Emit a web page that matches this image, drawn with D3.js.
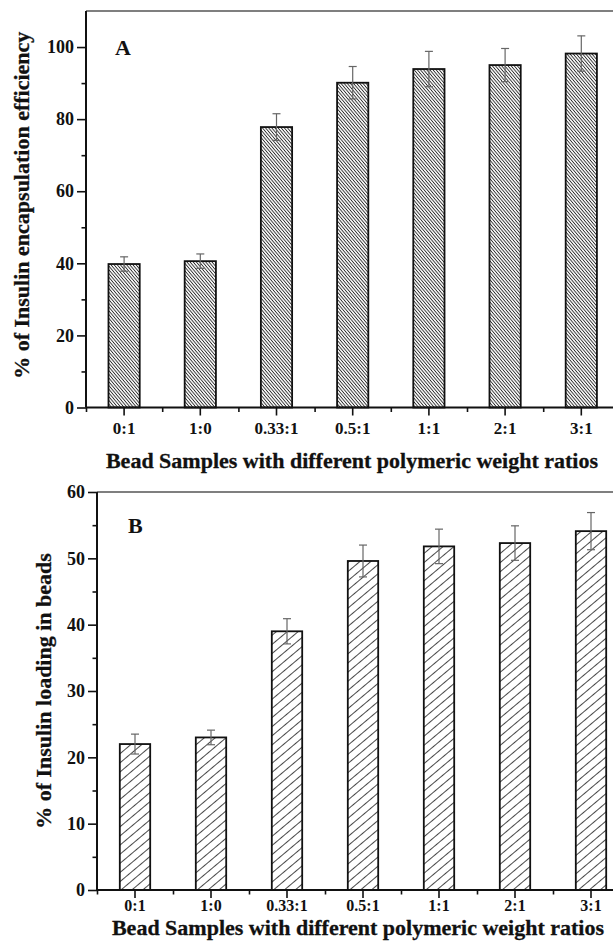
<!DOCTYPE html>
<html>
<head>
<meta charset="utf-8">
<script src="https://cdn.jsdelivr.net/npm/d3@7"></script>
<style>
  html, body { margin: 0; padding: 0; background: #fff; overflow: hidden; }
  svg { display: block; }
  text { font-family: "Liberation Serif", "Times New Roman", serif; font-weight: bold; fill: #111; }
</style>
</head>
<body>
<svg id="fig" width="613" height="941"></svg>
<script>
// Bead samples (polymer weight ratios)
const categories = ["0:1", "1:0", "0.33:1", "0.5:1", "1:1", "2:1", "3:1"];

// Panel A: insulin encapsulation efficiency (%), mean and SD
const efficiency    = [39.8, 40.6, 77.8, 90.1, 93.9, 95.0, 98.2];
const efficiencyErr = [2.0, 2.0, 3.7, 4.5, 4.9, 4.6, 4.9];

// Panel B: insulin loading in beads (%), mean and SD
const loading    = [22.0, 23.0, 39.0, 49.6, 51.8, 52.3, 54.1];
const loadingErr = [1.5, 1.1, 1.9, 2.4, 2.6, 2.6, 2.8];

// Axis ticks
const efficiencyTicks      = [0, 20, 40, 60, 80, 100];
const efficiencyMinorTicks = [10, 30, 50, 70, 90];
const loadingTicks         = [0, 10, 20, 30, 40, 50, 60];
const loadingMinorTicks    = [5, 15, 25, 35, 45, 55];

const xTitle = "Bead Samples with different polymeric weight ratios";

const svg = d3.select("#fig");
svg.append("rect").attr("width", 613).attr("height", 941).attr("fill", "#fff");

const defs = svg.append("defs");

// Dense back-slash hatch for panel A, open forward-slash hatch for panel B
function hatch(id, spacing, angle, color, width) {
  const p = defs.append("pattern")
    .attr("id", id)
    .attr("patternUnits", "userSpaceOnUse")
    .attr("width", spacing)
    .attr("height", spacing)
    .attr("patternTransform", `rotate(${angle})`);
  p.append("rect").attr("width", spacing).attr("height", spacing).attr("fill", "#fff");
  p.append("line")
    .attr("x1", spacing / 2).attr("y1", -1)
    .attr("x2", spacing / 2).attr("y2", spacing + 1)
    .attr("stroke", color).attr("stroke-width", width);
}
hatch("hatchA", 2.4, -40, "#2a2a2a", 0.9);
hatch("hatchB", 7.0, 50, "#333", 0.9);

function drawPanel(o) {
  const n = categories.length;
  const right = o.left + o.step * n;

  const x = d3.scaleBand()
    .domain(categories)
    .range([o.left, right])
    .paddingInner(o.pad)
    .paddingOuter(o.pad / 2);

  const xEdges = d3.scaleLinear().domain([0, n]).range([o.left, right]);

  const y = d3.scaleLinear().domain([0, o.yMax]).range([o.bottom, o.top]);

  const g = svg.append("g");

  // top frame line
  g.append("line")
    .attr("x1", o.left).attr("x2", right)
    .attr("y1", y(o.yMax)).attr("y2", y(o.yMax))
    .attr("stroke", "#555").attr("stroke-width", 1.6);

  // bars
  g.selectAll("rect.bar")
    .data(categories)
    .join("rect")
    .attr("class", "bar")
    .attr("x", d => x(d))
    .attr("width", x.bandwidth())
    .attr("y", (d, i) => y(o.values[i]))
    .attr("height", (d, i) => y(0) - y(o.values[i]))
    .attr("fill", `url(#${o.pattern})`)
    .attr("stroke", "#111")
    .attr("stroke-width", 1.8);

  // error bars
  const eg = g.selectAll("g.err")
    .data(categories)
    .join("g")
    .attr("class", "err")
    .attr("stroke", "#666")
    .attr("stroke-width", 1.2);
  const cx = d => x(d) + x.bandwidth() / 2;
  const cap = 4;
  eg.append("line")
    .attr("x1", cx).attr("x2", cx)
    .attr("y1", (d, i) => y(o.values[i] - o.errors[i]))
    .attr("y2", (d, i) => y(o.values[i] + o.errors[i]));
  eg.append("line")
    .attr("x1", d => cx(d) - cap).attr("x2", d => cx(d) + cap)
    .attr("y1", (d, i) => y(o.values[i] + o.errors[i]))
    .attr("y2", (d, i) => y(o.values[i] + o.errors[i]));
  eg.append("line")
    .attr("x1", d => cx(d) - cap).attr("x2", d => cx(d) + cap)
    .attr("y1", (d, i) => y(o.values[i] - o.errors[i]))
    .attr("y2", (d, i) => y(o.values[i] - o.errors[i]));

  // y axis: major and minor ticks
  const yAxis = g.append("g")
    .attr("transform", `translate(${o.left},0)`)
    .call(d3.axisLeft(y).tickValues(o.ticks).tickSize(9).tickPadding(3).tickFormat(d3.format("d")));
  g.append("g")
    .attr("transform", `translate(${o.left},0)`)
    .call(d3.axisLeft(y).tickValues(o.minorTicks).tickSize(4.5).tickFormat(""))
    .call(a => a.select(".domain").remove());
  yAxis.selectAll("text").attr("font-size", 18);

  // x axis: labelled ticks at bar centres, short ticks at category edges
  const xAxis = g.append("g")
    .attr("transform", `translate(0,${o.bottom})`)
    .call(d3.axisBottom(x).tickSize(8).tickPadding(o.xTickPad).tickSizeOuter(0));
  g.append("g")
    .attr("transform", `translate(0,${o.bottom})`)
    .call(d3.axisBottom(xEdges).tickValues(d3.range(0, n + 1)).tickSize(4.5).tickFormat(""))
    .call(a => a.select(".domain").remove());
  xAxis.selectAll("text").attr("font-size", o.xTickSize);

  g.selectAll(".domain").attr("stroke", "#111").attr("stroke-width", 2);
  g.selectAll(".tick line").attr("stroke", "#111").attr("stroke-width", 1.6);
  // plain axis lines without end caps
  yAxis.select(".domain").attr("d", `M0,${o.bottom}V${o.top}`);
  xAxis.select(".domain").attr("d", `M${o.left},0H${right}`);

  // axis titles
  g.append("text")
    .attr("x", o.xTitleX).attr("y", o.xTitleY)
    .attr("text-anchor", "middle")
    .attr("font-size", 22)
    .attr("stroke", "#111").attr("stroke-width", 0.3)
    .text(xTitle);
  g.append("text")
    .attr("transform", `translate(${o.yTitleX},${(o.top + o.bottom) / 2 + o.yTitleShift}) rotate(-90)`)
    .attr("text-anchor", "middle")
    .attr("font-size", 22)
    .attr("stroke", "#111").attr("stroke-width", 0.3)
    .text(o.yTitle);

  // panel letter
  g.append("text")
    .attr("x", o.letterX).attr("y", o.letterY)
    .attr("font-size", o.letterSize)
    .text(o.letter);
}

drawPanel({
  left: 86, step: 76.2, pad: 0.59,
  top: 11, bottom: 407.5, yMax: 110,
  values: efficiency, errors: efficiencyErr,
  ticks: efficiencyTicks, minorTicks: efficiencyMinorTicks,
  pattern: "hatchA", xTickSize: 17, xTickPad: 6,
  xTitleX: 352, xTitleY: 468,
  yTitle: "% of Insulin encapsulation efficiency", yTitleX: 29, yTitleShift: -4,
  letter: "A", letterX: 115, letterY: 55, letterSize: 22
});

drawPanel({
  left: 97, step: 76, pad: 0.6,
  top: 492, bottom: 890, yMax: 60,
  values: loading, errors: loadingErr,
  ticks: loadingTicks, minorTicks: loadingMinorTicks,
  pattern: "hatchB", xTickSize: 16, xTickPad: 2,
  xTitleX: 358, xTitleY: 935,
  yTitle: "% of Insulin loading in beads", yTitleX: 51, yTitleShift: 0,
  letter: "B", letterX: 128, letterY: 533, letterSize: 22
});
</script>
</body>
</html>
